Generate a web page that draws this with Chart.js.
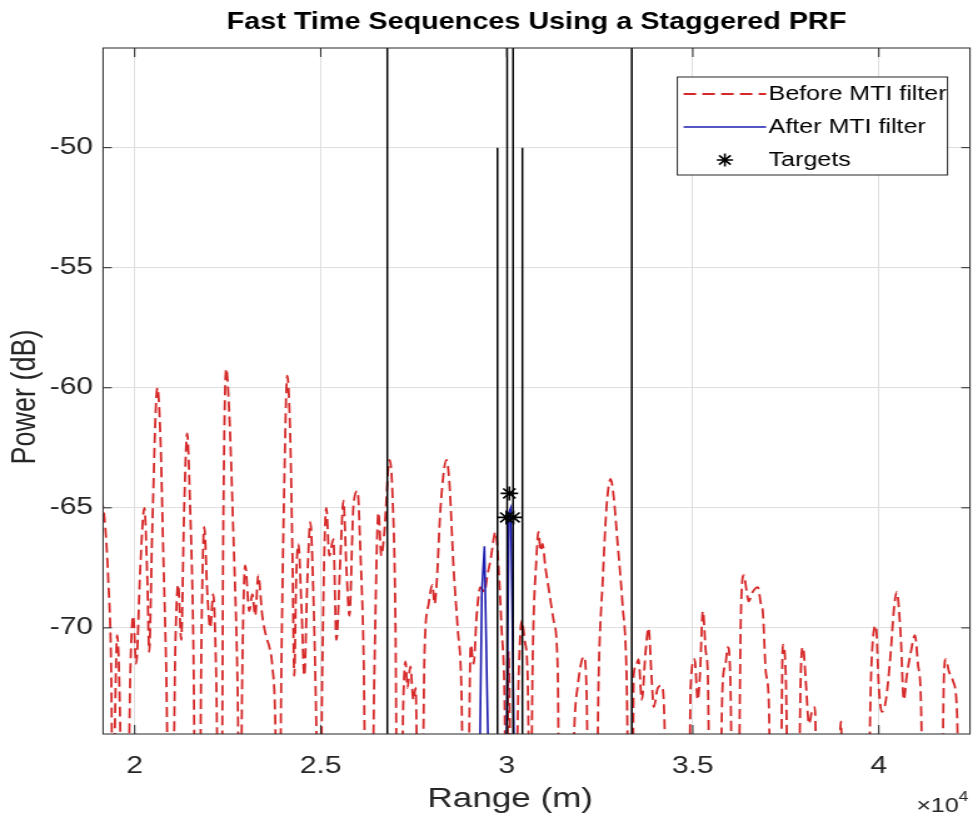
<!DOCTYPE html>
<html>
<head>
<meta charset="utf-8">
<title>Fast Time Sequences Using a Staggered PRF</title>
<script src="https://cdn.jsdelivr.net/npm/chart.js@4.4.1/dist/chart.umd.min.js"></script>
<style>
  html, body { margin: 0; padding: 0; background: #fff; }
</style>
</head>
<body>
<!-- the figure is drawn narrow and stretched sideways, like the original -->
<canvas id="chart" width="778" height="821" style="display:block;width:973px;height:821px"></canvas>
<script>
// Range (m) and power (dB), red dashed curve
const beforeRange = [
    19070, 19180, 19290, 19370, 19420, 19450, 19530, 19610, 19660, 19800,
    19880, 19960, 20040, 20150, 20260, 20340, 20390, 20470, 20610, 20690,
    20770, 20850, 20930, 21010, 21090, 21170, 21250, 21330, 21410, 21490,
    21570, 21650, 21740, 21790, 21870, 21950, 22030, 22110, 22190, 22270,
    22330, 22380, 22460, 22540, 22650, 22760, 22840, 22890, 22970, 23080,
    23160, 23240, 23320, 23430, 23540, 23620, 23700, 23780, 23830, 23890,
    23940, 24020, 24100, 24180, 24240, 24290, 24340, 24400, 24480, 24560,
    24640, 24720, 24800, 24880, 24940, 24990, 25040, 25150, 25230, 25340,
    25420, 25530, 25610, 25690, 25770, 25880, 25990, 26070, 26150, 26230,
    26360, 26440, 26550, 26630, 26710, 26850, 26930, 27010, 27060, 27140,
    27220, 27280, 27330, 27410, 27490, 27550, 27630, 27710, 27790, 27900,
    28000, 28060, 28110, 28220, 28380, 28460, 28570, 28680, 28780, 28860,
    28940, 29030, 29110, 29190, 29290, 29400, 29480, 29560, 29700, 29780,
    29860, 29940, 29990, 30050, 30130, 30210, 30320, 30400, 30480, 30560,
    30640, 30690, 30800, 30850, 30910, 30960, 31040, 31120, 31260, 31370,
    31420, 31720, 31820, 31900, 32070, 32150, 32200, 32390, 32470, 32580,
    32680, 32790, 32870, 32980, 33110, 33220, 33300, 33380, 33410, 33490,
    33540, 33630, 33730, 33810, 33890, 33950, 34060, 34160, 34240, 34300,
    34890, 34940, 35050, 35130, 35190, 35270, 35350, 35400, 35480, 35700,
    35800, 35880, 35940, 36020, 36070, 36210, 36290, 36370, 36450, 36500,
    36610, 36750, 36830, 36880, 36960, 37040, 37120, 37340, 37420, 37500,
    37580, 37820, 37900, 37960, 38040, 38120, 38200, 38280, 38360, 38870,
    38980, 39060, 39680, 39790, 39920, 40000, 40080, 40190, 40320, 40400,
    40480, 40590, 40670, 40750, 40860, 40970, 41050, 41130, 41210, 41670,
    41750, 41800, 41880, 41990, 42100, 42180, 42530
];
const beforePower = [
    -64.6, -65.3, -68, -72, -80, -76, -70.3, -74, -80, -80,
    -72, -69.5, -71.5, -67.5, -65.0, -68, -71, -66, -60.0, -62,
    -67, -72, -80, -80, -71, -68.2, -70.5, -65, -61.9, -65,
    -70, -80, -80, -71, -65.8, -68.5, -70, -68.6, -72, -80,
    -80, -66, -59.2, -61, -66, -72, -80, -72, -67.4, -69.3,
    -68.6, -69.5, -67.8, -69.5, -70.4, -70.8, -71.6, -74, -80, -80,
    -72, -64, -59.5, -62, -67, -72, -68, -66.5, -69, -72,
    -68, -65.6, -68.5, -74, -80, -80, -72, -65.0, -67, -66.3,
    -70.5, -67, -64.7, -67.5, -69.5, -64.9, -64.3, -67, -71, -80,
    -80, -72, -65.2, -67, -66, -63.0, -64.5, -70, -80, -80,
    -73, -71.4, -72.5, -71.6, -73, -72.5, -80, -80, -71, -69,
    -68.2, -69, -68.3, -65, -63.0, -64, -67.5, -70, -72.5, -80,
    -80, -70.7, -71.5, -69.5, -68.3, -68.5, -67.8, -67.2, -66.0, -67.5,
    -70, -73, -80, -71, -80, -80, -72, -69.7, -70.5, -72,
    -80, -72, -67, -66.0, -66.8, -66.5, -67.5, -68.3, -69.7, -71.8,
    -80, -80, -74, -72.5, -71.2, -73, -80, -80, -72, -68,
    -65, -63.8, -64.5, -66.5, -69, -72, -80, -80, -72, -71.5,
    -71.3, -73, -71, -70, -72, -73.3, -72.5, -72.4, -74, -80,
    -80, -72.5, -71.3, -73, -72, -69.3, -71, -71.8, -80, -80,
    -72.4, -71.5, -70.8, -73, -80, -80, -69.6, -67.8, -68.5, -68.9,
    -68.5, -68.3, -69, -69.3, -71.8, -73, -80, -80, -70.7, -72,
    -80, -80, -72, -70.8, -72.3, -74, -73.5, -73.3, -80, -80,
    -73.9, -80, -80, -72, -69.9, -72.5, -73.5, -73, -71, -69.3,
    -68.5, -70.4, -73, -72, -71, -70.3, -71.5, -73, -80, -80,
    -72, -71.3, -71.8, -72.2, -73.5, -80, -80
];

// blue solid curve, after the MTI filter
const afterRange = [29000, 29240, 29330, 29400, 29560, 29960, 30060, 30110, 30240, 30500];
const afterPower = [-80, -80, -68.5, -66.6, -80, -80, -65.2, -65.0, -80, -80];

// target markers
const targetRange = [30070, 29990, 30180];
const targetPower = [-64.4, -65.4, -65.4];

// black vertical lines: range and top end (dB)
const lineRange = [26790, 29750, 30010, 30170, 30420, 33360];
const lineTop = [-40, -50, -40, -40, -50, -40];

// axes
const xTicks = [20000, 25000, 30000, 35000, 40000];
const yTicks = [-70, -65, -60, -55, -50];
const xMin = 19150, xMax = 42450;
const yMin = -74.42, yMax = -45.85;

const axisColor = '#262626';
const gridColor = '#dfdfdf';
const fontFamily = '"Liberation Sans", Arial, Helvetica, sans-serif';

document.addEventListener('DOMContentLoaded', function () {
    Chart.defaults.font.family = fontFamily;
    Chart.defaults.color = axisColor;

    const datasets = [];

    datasets.push({
        label: 'Targets',
        data: targetRange.map((r, i) => ({ x: r, y: targetPower[i] })),
        showLine: false,
        pointStyle: 'star',
        pointRadius: 7,
        pointBorderWidth: 1.6,
        pointBorderColor: '#000',
        pointBackgroundColor: '#000',
        order: 0
    });

    lineRange.forEach((r, i) => {
        datasets.push({
            label: 'line' + i,
            data: [{ x: r, y: lineTop[i] }, { x: r, y: -80 }],
            borderColor: '#000',
            borderWidth: 1.5,
            pointRadius: 0,
            order: 1
        });
    });

    datasets.push({
        label: 'After MTI filter',
        data: afterRange.map((r, i) => ({ x: r, y: afterPower[i] })),
        borderColor: '#1c1cb0',
        borderWidth: 1.6,
        pointRadius: 0,
        tension: 0,
        order: 2
    });

    datasets.push({
        label: 'Before MTI filter',
        data: beforeRange.map((r, i) => ({ x: r, y: beforePower[i] })),
        borderColor: '#d62828',
        borderWidth: 1.8,
        borderDash: [10, 5],
        pointRadius: 0,
        cubicInterpolationMode: 'monotone',
        order: 3
    });

    // white page behind everything
    const background = {
        id: 'background',
        beforeDraw(chart) {
            const ctx = chart.ctx;
            ctx.save();
            ctx.fillStyle = '#fff';
            ctx.fillRect(0, 0, chart.width, chart.height);
            ctx.restore();
        }
    };

    // axes box with inward ticks, axis labels, the x10^4 exponent and the legend
    const frame = {
        id: 'frame',
        afterDatasetsDraw(chart) {
            const ctx = chart.ctx;
            const a = chart.chartArea;
            const xs = chart.scales.x, ys = chart.scales.y;
            ctx.save();
            ctx.strokeStyle = axisColor;
            ctx.lineWidth = 1;
            ctx.strokeRect(a.left, a.top, a.right - a.left, a.bottom - a.top);

            ctx.beginPath();
            xTicks.forEach(v => {
                const px = xs.getPixelForValue(v);
                ctx.moveTo(px, a.bottom); ctx.lineTo(px, a.bottom - 9);
                ctx.moveTo(px, a.top); ctx.lineTo(px, a.top + 9);
            });
            yTicks.forEach(v => {
                const py = ys.getPixelForValue(v);
                ctx.moveTo(a.left, py); ctx.lineTo(a.left + 7, py);
                ctx.moveTo(a.right, py); ctx.lineTo(a.right - 7, py);
            });
            ctx.stroke();

            // axis labels, placed as in the original
            ctx.fillStyle = axisColor;
            ctx.textAlign = 'center';
            ctx.textBaseline = 'middle';
            ctx.font = '28px ' + fontFamily;
            ctx.fillText('Range (m)', 408, 799);

            ctx.save();
            ctx.translate(21, 397);
            ctx.rotate(-Math.PI / 2);
            ctx.font = '27px ' + fontFamily;
            ctx.fillText('Power (dB)', 0, 0);
            ctx.restore();

            // x10^4
            ctx.textBaseline = 'alphabetic';
            ctx.textAlign = 'right';
            ctx.font = '20px ' + fontFamily;
            ctx.fillText('\u00d710', a.right - 9, 812);
            ctx.textAlign = 'left';
            ctx.font = '14px ' + fontFamily;
            ctx.fillText('4', a.right - 9, 801);

            // legend
            const w = 216, h = 98;
            const x0 = a.right - 18 - w, y0 = a.top + 29;
            ctx.fillStyle = '#fff';
            ctx.fillRect(x0, y0, w, h);
            ctx.strokeStyle = axisColor;
            ctx.lineWidth = 1;
            ctx.strokeRect(x0, y0, w, h);

            const items = ['Before MTI filter', 'After MTI filter', 'Targets'];
            const rowY = [17, 50, 83];
            items.forEach((label, i) => {
                const ds = chart.data.datasets.find(d => d.label === label);
                const y = y0 + rowY[i];
                if (label === 'Targets') {
                    const cx = x0 + 38, r = 6.5;
                    ctx.strokeStyle = '#000';
                    ctx.lineWidth = 1.6;
                    ctx.beginPath();
                    for (let k = 0; k < 4; k++) {
                        const ang = k * Math.PI / 4;
                        ctx.moveTo(cx - r * Math.cos(ang), y - r * Math.sin(ang));
                        ctx.lineTo(cx + r * Math.cos(ang), y + r * Math.sin(ang));
                    }
                    ctx.stroke();
                } else {
                    ctx.strokeStyle = ds.borderColor;
                    ctx.lineWidth = ds.borderWidth;
                    ctx.setLineDash(ds.borderDash || []);
                    ctx.beginPath();
                    ctx.moveTo(x0 + 5, y);
                    ctx.lineTo(x0 + 71, y);
                    ctx.stroke();
                    ctx.setLineDash([]);
                }
                ctx.fillStyle = '#000';
                ctx.font = '20px ' + fontFamily;
                ctx.textAlign = 'left';
                ctx.textBaseline = 'middle';
                ctx.fillText(label, x0 + 73, y);
            });
            ctx.restore();
        }
    };

    const ctx = document.getElementById('chart').getContext('2d');
    new Chart(ctx, {
        type: 'line',
        data: { datasets: datasets },
        plugins: [background, frame],
        options: {
            responsive: false,
            animation: false,
            devicePixelRatio: 1,
            layout: { autoPadding: false, padding: { left: 0, right: 2.4, top: 0, bottom: 0 } },
            scales: {
                x: {
                    type: 'linear',
                    min: xMin,
                    max: xMax,
                    afterFit: scale => {
                        scale.height = 87;
                        scale.paddingLeft = 0;
                        scale.paddingRight = 0;
                    },
                    afterBuildTicks: scale => { scale.ticks = xTicks.map(v => ({ value: v })); },
                    grid: { color: gridColor, drawTicks: false },
                    border: { display: false },
                    ticks: {
                        padding: 18,
                        maxRotation: 0,
                        font: { size: 24 },
                        callback: v => String(v / 10000)
                    }
                },
                y: {
                    min: yMin,
                    max: yMax,
                    afterFit: scale => {
                        scale.width = 82.4;
                        scale.paddingTop = 0;
                        scale.paddingBottom = 0;
                    },
                    afterBuildTicks: scale => { scale.ticks = yTicks.map(v => ({ value: v })); },
                    grid: { color: gridColor, drawTicks: false },
                    border: { display: false },
                    ticks: {
                        padding: 8,
                        font: { size: 24 },
                        callback: v => String(v)
                    }
                }
            },
            plugins: {
                legend: { display: false },
                tooltip: { enabled: false },
                title: {
                    display: true,
                    text: 'Fast Time Sequences Using a Staggered PRF',
                    fullSize: false,
                    color: '#000',
                    font: { size: 23, weight: 'bold' },
                    padding: { top: 9, bottom: 11.4 }
                }
            }
        }
    });
});
</script>
</body>
</html>
